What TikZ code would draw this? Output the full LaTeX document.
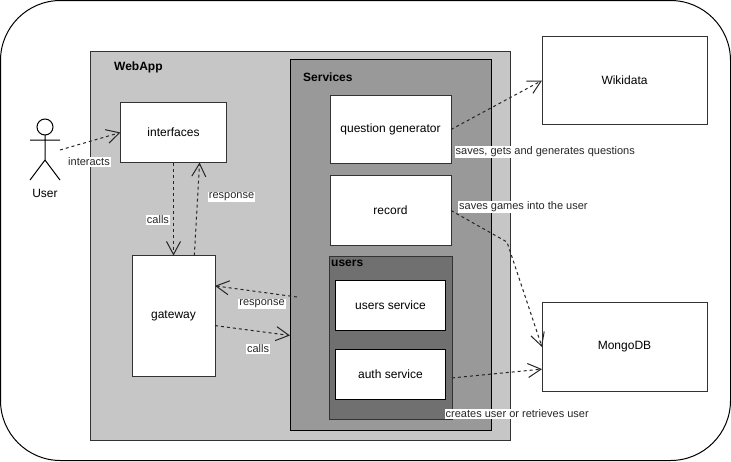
\documentclass[tikz,border=0pt]{standalone}
\usepackage{fontspec}
\setmainfont{Liberation Sans}
\usetikzlibrary{arrows.meta}
\definecolor{appgray}{HTML}{C6C6C6}
\definecolor{servgray}{HTML}{999999}
\definecolor{usergray}{HTML}{707070}
\tikzset{
  panel/.style={draw=black!80,line width=1pt,inner sep=0pt,outer sep=0pt},
  box/.style={draw=black!80,fill=white,line width=1pt,inner sep=0pt,outer sep=0pt,font=\fontsize{12}{14}\selectfont},
  title/.style={inner sep=0pt,font=\fontsize{12}{14}\selectfont\bfseries},
  lbl/.style={fill=white,text=black!85,inner sep=1pt,font=\fontsize{11}{13}\selectfont},
  link/.style={draw=black!85,line width=1pt,dash pattern=on 3pt off 3pt,-{Straight Barb[length=13pt,width=14pt,line width=1pt]}},
}
\begin{document}
\begin{tikzpicture}[x=1pt,y=-1pt]
\useasboundingbox (0,0) rectangle (731,461);

% outline
\node[draw,line width=1pt,rounded corners=60pt,inner sep=0pt,outer sep=0pt,minimum width=730pt,minimum height=460pt] (frame) at (365.5,230.5) {};

% panels
\node[panel,fill=appgray,minimum width=420pt,minimum height=389pt] (webapp) at (300.5,245.5) {};
\node[panel,fill=servgray,draw=black,minimum width=201pt,minimum height=371pt] (services) at (390.5,245) {};
\node[panel,fill=usergray,minimum width=123pt,minimum height=163pt] (users) at (390.5,338) {};
\node[title,anchor=west] (webapptitle) at (114,67.5) {WebApp};
\node[title,anchor=west] (servicestitle) at (303,77.5) {Services};
\node[title,anchor=west] (userstitle) at (331,263.5) {users};

% boxes
\node[box,minimum width=106pt,minimum height=60pt] (interfaces) at (173.5,132.5) {interfaces};
\node[box,minimum width=83pt,minimum height=121pt] (gateway) at (173.5,316) {gateway};
\node[box,minimum width=121pt,minimum height=68pt] (question) at (390.5,129.5) {question generator};
\node[box,minimum width=121pt,minimum height=70pt] (record) at (390.5,210.5) {record};
\node[box,draw=black,minimum width=110pt,minimum height=50pt] (usersservice) at (390.5,305.5) {users service};
\node[box,draw=black,minimum width=110pt,minimum height=50pt] (authservice) at (390.5,374.5) {auth service};
\node[box,minimum width=165pt,minimum height=88pt] (wikidata) at (624.5,80.5) {Wikidata};
\node[box,minimum width=165pt,minimum height=89pt] (mongodb) at (624.5,347) {MongoDB};

% actor
\node[draw,circle,line width=1pt,inner sep=0pt,outer sep=0pt,minimum size=16pt] (head) at (45,127) {};
\coordinate (hip) at (45,160);
\draw[line width=1pt] (head.south) -- (hip) (30,140) -- (60,140) (30,180) -- (hip) -- (60,180);
\node[font=\fontsize{12}{14}\selectfont,inner sep=0pt] (user) at (45,193.5) {User};
\coordinate (userhand) at (60,150);

% connectors
\coordinate (servicesin) at (297,297);
\coordinate (recordbend) at (507,242);
\draw[link] (userhand) -- (interfaces.west);
\draw[link] (interfaces.south) -- (gateway.north);
\draw[link] (gateway.71) -- (interfaces.-49);
\draw[link] (servicesin) -- (gateway.36);
\draw[link] (gateway.-13) -- (services.222.6);
\draw[link] (question.east) -- (wikidata.west);
\draw[link] (record.east) -- (recordbend) -- (mongodb.west);
\draw[link] (users.-33) -- (mongodb.195);

% labels
\node[lbl] (interacts) at (89,162) {interacts};
\node[lbl] (callsone) at (158,220) {calls};
\node[lbl] (responseone) at (231.5,197) {response};
\node[lbl] (responsetwo) at (262,304) {response};
\node[lbl] (callstwo) at (258,349) {calls};
\node[lbl,anchor=west] (saves) at (454.5,152) {saves, gets and generates questions};
\node[lbl,anchor=west] (games) at (458,207) {saves games into the user};
\node[lbl,anchor=west] (creates) at (444.5,414) {creates user or retrieves user};
\end{tikzpicture}
\end{document}
